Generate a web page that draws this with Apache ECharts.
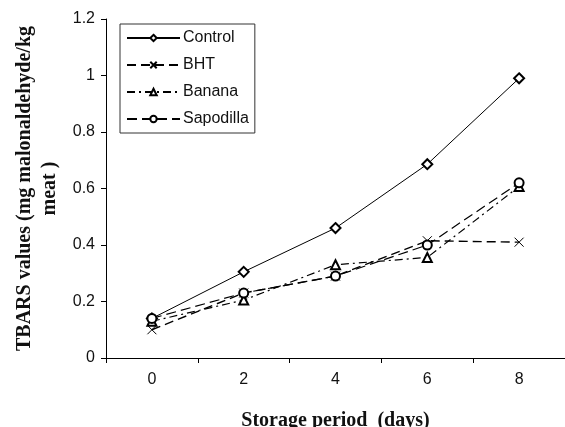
<!DOCTYPE html>
<html>
<head>
<meta charset="utf-8">
<script src="https://cdn.jsdelivr.net/npm/echarts@6/dist/echarts.min.js"></script>
<style>
  html, body { margin: 0; padding: 0; background: #fff; }
  #chart { width: 565px; height: 427px; }
</style>
</head>
<body>
<div id="chart"></div>
<script>
'use strict';
var days = ['0', '2', '4', '6', '8'];
var control = [0.14, 0.305, 0.46, 0.686, 0.99];
var bht = [0.10, 0.23, 0.29, 0.415, 0.41];
var banana = [0.13, 0.205, 0.33, 0.356, 0.607];
var sapodilla = [0.14, 0.23, 0.29, 0.40, 0.62];
var yTicks = [0, 0.2, 0.4, 0.6, 0.8, 1, 1.2];

var chart = echarts.init(document.getElementById('chart'));

function line(name, data, symbol, dash, size, width) {
    return {
        name: name,
        type: 'line',
        data: data,
        symbol: symbol,
        symbolSize: size || 9,
        color: '#000',
        itemStyle: { color: '#000', borderColor: '#000', borderWidth: 1 },
        lineStyle: { color: '#000', width: width || 1, type: dash },
        z: 3
    };
}

var option = {
    animation: false,
    backgroundColor: '#fff',
    grid: { left: 106, right: 0, top: 19, bottom: 69, outerBoundsMode: 'none', containLabel: false },
    legend: {
        orient: 'vertical',
        left: 120,
        top: 24,
        padding: [5, 6, 5, 6],
        itemGap: 9,
        itemWidth: 53,
        itemHeight: 8,
        borderColor: '#333',
        borderWidth: 1,
        backgroundColor: '#fff',
        textStyle: { fontFamily: 'Liberation Sans', fontSize: 16, color: '#111', lineHeight: 18, padding: [0, 0, 0, -2] },
        data: ['Control', 'BHT', 'Banana', 'Sapodilla']
    },
    xAxis: {
        type: 'category',
        data: days,
        boundaryGap: true,
        axisLine: { lineStyle: { color: '#000', width: 1 } },
        axisTick: { show: true, length: 5, lineStyle: { color: '#000' } },
        axisLabel: { fontFamily: 'Liberation Sans', fontSize: 16, color: '#111', margin: 14 },
        name: 'Storage period  (days)',
        nameLocation: 'middle',
        nameGap: 53,
        nameTextStyle: { fontFamily: 'Liberation Serif', fontWeight: 'bold', fontSize: 20, color: '#111' }
    },
    yAxis: {
        type: 'value',
        min: 0,
        max: 1.2,
        interval: 0.2,
        splitLine: { show: false },
        axisLine: { show: true, lineStyle: { color: '#000', width: 1 } },
        axisTick: { show: true, length: 5, lineStyle: { color: '#000' } },
        axisLabel: {
            fontFamily: 'Liberation Sans', fontSize: 16, color: '#111', margin: 11,
            formatter: function (v) {
                var t = yTicks.find(function (x) { return Math.abs(x - v) < 1e-6; });
                return t === undefined ? '' : String(t);
            }
        },
        name: 'TBARS values (mg malonaldehyde/kg\nmeat )',
        nameLocation: 'middle',
        nameRotate: 90,
        nameGap: 43,
        nameTextStyle: { fontFamily: 'Liberation Serif', fontWeight: 'bold', fontSize: 20, color: '#111', lineHeight: 25, align: 'center' }
    },
    series: [
        line('Control', control, 'emptyDiamond', 'solid', 10, 1),
        line('BHT', bht, 'path://M0,0L10,10M10,0L0,10', [9, 5], 9, 1.4),
        line('Banana', banana, 'emptyTriangle', [8, 4, 2, 4], 9, 1.2),
        line('Sapodilla', sapodilla, 'emptyCircle', [10, 5], 9, 1.2)
    ]
};
chart.setOption(option);
</script>
</body>
</html>
